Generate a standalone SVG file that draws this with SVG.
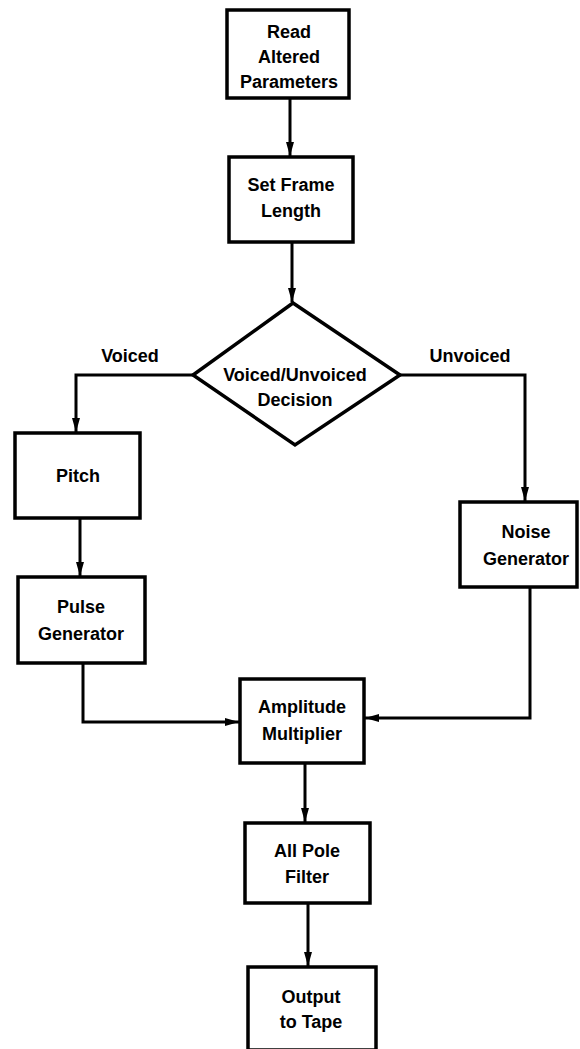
<svg xmlns="http://www.w3.org/2000/svg" width="580" height="1049" viewBox="0 0 580 1049">
<style>
.box{fill:#fff;stroke:#000;stroke-width:3.5}
.t{font-family:"Liberation Sans",Arial,sans-serif;font-weight:bold;font-size:18px;text-anchor:middle;fill:#000}
.c{fill:none;stroke:#000;stroke-width:3}
</style>
<defs>
<marker id="ah" viewBox="0 0 14 8" refX="14" refY="4" markerWidth="14" markerHeight="8" markerUnits="userSpaceOnUse" orient="auto">
<path d="M0,0 L14,4 L0,8 Z" fill="#000"/>
</marker>
</defs>
<rect width="580" height="1049" fill="#fff"/>
<g id="connectors">
<path class="c" d="M290,98 V156" marker-end="url(#ah)"/>
<path class="c" d="M292,242 V302" marker-end="url(#ah)"/>
<path class="c" d="M193,375 H76 V432" marker-end="url(#ah)"/>
<path class="c" d="M80,518 V576" marker-end="url(#ah)"/>
<path class="c" d="M83,663 V722 H239" marker-end="url(#ah)"/>
<path class="c" d="M400,375 H525 V501" marker-end="url(#ah)"/>
<path class="c" d="M530,587 V718 H365" marker-end="url(#ah)"/>
<path class="c" d="M305,763 V822" marker-end="url(#ah)"/>
<path class="c" d="M308,903 V966" marker-end="url(#ah)"/>
<text class="t" x="130" y="362">Voiced</text>
<text class="t" x="470" y="362">Unvoiced</text>
</g>
<g id="read">
<rect class="box" x="227" y="10" width="122" height="88"/>
<text class="t" x="289" y="38">Read</text>
<text class="t" x="289" y="63">Altered</text>
<text class="t" x="289" y="88">Parameters</text>
</g>
<g id="frame">
<rect class="box" x="229" y="157" width="124" height="85"/>
<text class="t" x="291" y="191">Set Frame</text>
<text class="t" x="291" y="217">Length</text>
</g>
<g id="decision">
<polygon points="293,303 400,375 295,445 193,375" fill="#fff" stroke="#000" stroke-width="3.5" stroke-linejoin="miter"/>
<text class="t" x="295" y="381">Voiced/Unvoiced</text>
<text class="t" x="295" y="406">Decision</text>
</g>
<g id="pitch">
<rect class="box" x="15" y="433" width="125" height="85"/>
<text class="t" x="78" y="482">Pitch</text>
</g>
<g id="pulse">
<rect class="box" x="18" y="577" width="127" height="86"/>
<text class="t" x="81" y="613">Pulse</text>
<text class="t" x="81" y="640">Generator</text>
</g>
<g id="noise">
<rect class="box" x="460" y="502" width="117" height="85"/>
<text class="t" x="526" y="538">Noise</text>
<text class="t" x="526" y="565">Generator</text>
</g>
<g id="amplitude">
<rect class="box" x="240" y="679" width="124" height="84"/>
<text class="t" x="302" y="713">Amplitude</text>
<text class="t" x="302" y="740">Multiplier</text>
</g>
<g id="filter">
<rect class="box" x="245" y="823" width="125" height="80"/>
<text class="t" x="307" y="857">All Pole</text>
<text class="t" x="307" y="883">Filter</text>
</g>
<g id="output">
<rect class="box" x="248" y="967" width="128" height="83"/>
<text class="t" x="311" y="1003">Output</text>
<text class="t" x="311" y="1028">to Tape</text>
</g>
</svg>
